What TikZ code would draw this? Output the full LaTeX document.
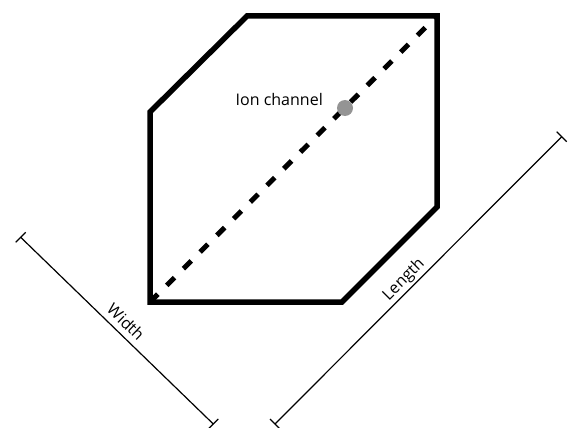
\documentclass[tikz,border=0pt]{standalone}
\usepackage{fontspec}
\setmainfont{Open Sans}
\usetikzlibrary{calc}
\begin{document}
\begin{tikzpicture}[x=1pt,y=-1pt,
  hexline/.style={line width=5.5pt, line join=miter},
  diagline/.style={line width=5pt, dash pattern=on 11pt off 12.6pt},
  dimline/.style={line width=1.2pt},
  dimlabel/.style={font=\fontsize{16}{19}\selectfont, inner sep=0pt}]
\useasboundingbox (0,0) rectangle (568,428);
% hexagon corners
\coordinate (h1) at (150,112);
\coordinate (h2) at (247,16);
\coordinate (h3) at (437,16);
\coordinate (h4) at (437,207);
\coordinate (h5) at (342,302);
\coordinate (h6) at (150,302);
\draw[hexline] (h1) -- (h2) -- (h3) -- (h4) -- (h5) -- (h6) -- cycle;
\draw[diagline] (h6) -- (h3);
% ion channel
\fill[black!42] (345,108) circle (8pt);
\node[dimlabel, anchor=base east] (ion) at (323,106) {Ion channel};
% width dimension
\coordinate (w1) at (20.7,237.3);
\coordinate (w2) at (213.3,424);
\draw[dimline] (w1) -- (w2);
\node[dimlabel, rotate=-44] (wl) at (126,322) {Width};
\draw[dimline] ($(w1)+(-5,5)$) -- ($(w1)+(5,-5)$);
\draw[dimline] ($(w2)+(-5,5)$) -- ($(w2)+(5,-5)$);
% length dimension
\coordinate (l1) at (275,424);
\coordinate (l2) at (561.7,136.7);
\draw[dimline] (l1) -- (l2);
\node[dimlabel, rotate=45] (ll) at (404,280) {Length};
\draw[dimline] ($(l1)+(-5,-5)$) -- ($(l1)+(5,5)$);
\draw[dimline] ($(l2)+(-5,-5)$) -- ($(l2)+(5,5)$);
\end{tikzpicture}
\end{document}
